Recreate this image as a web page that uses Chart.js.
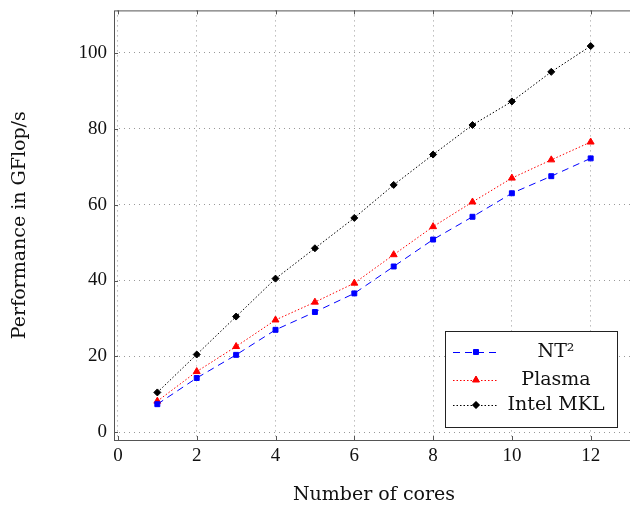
<!DOCTYPE html>
<html>
<head>
<meta charset="utf-8">
<script src="https://cdn.jsdelivr.net/npm/chart.js@4"></script>
<style>
  body { margin: 0; overflow: hidden; background: #fff; }
  #wrap { width: 640px; height: 519px; margin-top: -8px; }
</style>
</head>
<body>
<div id="wrap"><canvas id="myChart" width="640" height="519"></canvas></div>
<script>
const ctx = document.getElementById('myChart');

// cores on the x axis
const cores = [1, 2, 3, 4, 5, 6, 7, 8, 9, 10, 11, 12];
// GFlop/s
const nt2 = [7.4, 14.3, 20.4, 27.0, 31.7, 36.6, 43.7, 50.8, 56.8, 63.0, 67.5, 72.2];
const plasma = [8.2, 16.0, 22.6, 29.6, 34.3, 39.3, 46.8, 54.2, 60.7, 67.0, 71.8, 76.5];
const mkl = [10.5, 20.5, 30.5, 40.5, 48.5, 56.5, 65.2, 73.2, 81.0, 87.2, 95.0, 101.8];

const xTicks = [0, 2, 4, 6, 8, 10, 12];
const yTicks = [0, 20, 40, 60, 80, 100];

const serif = '"Liberation Serif", serif';
const textSerif = '"DejaVu Serif", serif';

function pts(arr) {
    return cores.map((c, i) => ({ x: c, y: arr[i] }));
}

// pgfplots style box: frame on all four sides plus small tick marks
const framePlugin = {
    id: 'frame',
    afterDraw(chart) {
        const a = chart.chartArea;
        const c = chart.ctx;
        const sx = chart.scales.x, sy = chart.scales.y;
        c.save();
        c.strokeStyle = '#555';
        c.lineWidth = 1;
        c.strokeRect(a.left + 0.5, a.top + 0.5, a.right - a.left, a.bottom - a.top);
        c.beginPath();
        xTicks.forEach(v => {
            const px = Math.round(sx.getPixelForValue(v)) + 0.5;
            c.moveTo(px, a.bottom); c.lineTo(px, a.bottom - 4);
            c.moveTo(px, a.top); c.lineTo(px, a.top + 4);
        });
        yTicks.forEach(v => {
            const py = Math.round(sy.getPixelForValue(v)) + 0.5;
            c.moveTo(a.left, py); c.lineTo(a.left + 4, py);
            c.moveTo(a.right, py); c.lineTo(a.right - 4, py);
        });
        c.stroke();
        c.restore();
    }
};

// legend drawn inside the plot, bottom right
const legendPlugin = {
    id: 'boxLegend',
    afterDraw(chart) {
        const c = chart.ctx;
        const off = 8; // canvas is shifted up by 8px
        const bx = 445, by = 331 + off, bw = 172, bh = 96;
        c.save();
        c.fillStyle = '#fff';
        c.fillRect(bx, by, bw, bh);
        c.strokeStyle = '#222';
        c.lineWidth = 1;
        c.strokeRect(bx + 0.5, by + 0.5, bw, bh);
        const rows = [352, 380, 405];
        chart.data.datasets.forEach((ds, i) => {
            const y = rows[i] + off;
            c.beginPath();
            c.setLineDash(ds.borderDash || []);
            c.strokeStyle = ds.borderColor;
            c.lineWidth = ds.borderWidth;
            c.moveTo(453, y + 0.5);
            c.lineTo(497, y + 0.5);
            c.stroke();
            c.setLineDash([]);
            Chart.helpers.drawPoint(c, {
                pointStyle: ds.pointStyle,
                radius: ds.pointRadius,
                rotation: 0,
                borderWidth: 1
            }, 476, y);
            c.fillStyle = ds.pointBackgroundColor;
            c.fill();
            c.fillStyle = '#111';
            c.font = '19px ' + textSerif;
            c.textAlign = 'center';
            c.textBaseline = 'middle';
            c.fillText(ds.label, 556, y);
        });
        c.restore();
    }
};

new Chart(ctx, {
    type: 'line',
    data: {
        datasets: [{
            label: 'NT\u00B2',
            data: pts(nt2),
            borderColor: '#0000ff',
            backgroundColor: '#0000ff',
            pointBackgroundColor: '#0000ff',
            pointBorderColor: '#0000ff',
            borderWidth: 1,
            borderDash: [7, 5],
            pointStyle: 'rect',
            pointRadius: 3.5
        }, {
            label: 'Plasma',
            data: pts(plasma),
            borderColor: '#ff0000',
            backgroundColor: '#ff0000',
            pointBackgroundColor: '#ff0000',
            pointBorderColor: '#ff0000',
            borderWidth: 1,
            borderDash: [1.5, 2],
            pointStyle: 'triangle',
            pointRadius: 4
        }, {
            label: 'Intel MKL',
            data: pts(mkl),
            borderColor: '#000',
            backgroundColor: '#000',
            pointBackgroundColor: '#000',
            pointBorderColor: '#000',
            borderWidth: 1,
            borderDash: [1.5, 2],
            pointStyle: 'rectRot',
            pointRadius: 3.5
        }]
    },
    options: {
        responsive: false,
        animation: false,
        layout: { padding: { top: 2, right: 6, left: 0, bottom: 0 } },
        plugins: {
            legend: { display: false },
            tooltip: { enabled: false }
        },
        scales: {
            x: {
                type: 'linear',
                min: -0.1,
                max: 13.1,
                afterBuildTicks: s => { s.ticks = xTicks.map(v => ({ value: v })); },
                afterFit: s => { s.height = 71; },
                grid: { color: '#999', drawTicks: false },
                border: { display: false, dash: [1, 4] },
                ticks: { color: '#111', font: { family: serif, size: 19 }, padding: 5, maxRotation: 0 },
                title: { display: true, text: 'Number of cores', color: '#111', font: { family: textSerif, size: 19 }, padding: { top: 20, bottom: 5 } }
            },
            y: {
                type: 'linear',
                min: -2.04,
                max: 111.2,
                afterBuildTicks: s => { s.ticks = yTicks.map(v => ({ value: v })); },
                afterFit: s => { s.width = 114; },
                grid: { color: '#999', drawTicks: false },
                border: { display: false, dash: [1, 4] },
                ticks: { color: '#111', font: { family: serif, size: 19 }, padding: 7 },
                title: { display: true, text: 'Performance in GFlop/s', color: '#111', font: { family: textSerif, size: 19 }, padding: { top: 9, bottom: 0 } }
            }
        }
    },
    plugins: [framePlugin, legendPlugin]
});
</script>
</body>
</html>
